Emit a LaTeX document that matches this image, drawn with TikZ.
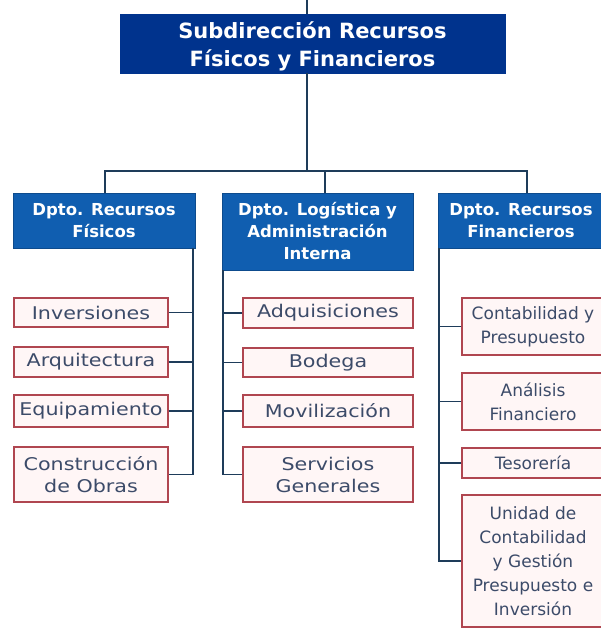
\documentclass[tikz,border=0pt]{standalone}
\usepackage{fontspec}
\setmainfont{DejaVu Sans}
\newfontfamily\widefont[FakeStretch=1.18]{DejaVu Sans}
\newfontfamily\boldfont{DejaVu Sans Bold}
\definecolor{topblue}{RGB}{0,51,141}
\definecolor{deptblue}{RGB}{16,94,176}
\definecolor{boxred}{RGB}{176,70,80}
\definecolor{boxfill}{RGB}{255,246,246}
\definecolor{boxtext}{RGB}{60,75,105}
\definecolor{linecol}{RGB}{30,60,90}
\tikzset{
  topbox/.style={fill=topblue, draw=topblue, text=white, align=center, inner sep=0pt,
    font=\boldfont\fontsize{21}{28}\selectfont},
  deptbox/.style={fill=deptblue, draw=deptblue!80!black, line width=0.6pt, text=white, align=center, inner sep=0pt,
    font=\boldfont\fontsize{16.5}{22}\selectfont},
  childbox/.style={fill=boxfill, draw=boxred, line width=1.2pt, text=boxtext, align=center, inner sep=0pt,
    font=\widefont\fontsize{17.5}{22}\selectfont},
  rchildbox/.style={childbox, font=\fontsize{17}{24}\selectfont},
  conn/.style={draw=linecol, line width=1.5pt}
}
\begin{document}
\begin{tikzpicture}[x=1pt,y=-1pt]
\useasboundingbox (0,0) rectangle (600,628);
% top
\node[topbox, minimum width=385, minimum height=59] (top) at (312.5,43.5) {};
\node[text=white, align=center, inner sep=0pt, font=\boldfont\fontsize{21}{28}\selectfont] (toptext) at (312.5,46) {Subdirección Recursos\\Físicos y Financieros};
% departments
\node[deptbox, minimum width=182, minimum height=55] (dL) at (104,220.5) {Dpto. Recursos\\Físicos};
\node[deptbox, minimum width=191, minimum height=77] (dM) at (317.5,231.5) {Dpto. Logística y\\Administración\\Interna};
\node[deptbox, minimum width=166, minimum height=55] (dR) at (521,220.5) {Dpto. Recursos\\Financieros};
% left children
\node[childbox, minimum width=154, minimum height=29] (L1) at (91,312.5) {Inversiones};
\node[childbox, minimum width=154, minimum height=30] (L2) at (91,362) {Arquitectura};
\node[childbox, minimum width=154, minimum height=32] (L3) at (91,411) {Equipamiento};
\node[childbox, minimum width=154, minimum height=55] (L4) at (91,474.5) {Construcción\\de Obras};
% middle children
\node[childbox, minimum width=170, minimum height=30] (M1) at (328,313) {Adquisiciones};
\node[childbox, minimum width=170, minimum height=29] (M2) at (328,362.5) {Bodega};
\node[childbox, minimum width=170, minimum height=32] (M3) at (328,411) {Movilización};
\node[childbox, minimum width=170, minimum height=55] (M4) at (328,474.5) {Servicios\\Generales};
% right children
\node[rchildbox, minimum width=142, minimum height=57] (R1) at (533,326.5) {Contabilidad y\\Presupuesto};
\node[rchildbox, minimum width=142, minimum height=57] (R2) at (533,401.5) {Análisis\\Financiero};
\node[rchildbox, minimum width=142, minimum height=30] (R3) at (533,463) {Tesorería};
\node[rchildbox, minimum width=142, minimum height=132] (R4) at (533,561) {Unidad de\\Contabilidad\\y Gestión\\Presupuesto e\\Inversión};
% coordinates
\coordinate (t0) at (307,0);
\coordinate (bus) at (307,171);
\coordinate (bL) at (105,171);
\coordinate (bM) at (325,171);
\coordinate (bR) at (527,171);
\coordinate (lt) at (193,0);
\coordinate (mt) at (223,0);
\coordinate (rt) at (439,0);
% connectors
\draw[conn] (t0) -- (t0 |- top.north);
\draw[conn] (t0 |- top.south) -- (bus);
\draw[conn] (bL |- dL.north) -- (bL) -- (bR) -- (bR |- dR.north);
\draw[conn] (bM) -- (bM |- dM.north);
% left trunk
\draw[conn] (lt |- dL.south) -- (lt |- L4.east) -- (L4.east);
\foreach \n in {L1,L2,L3} \draw[conn] (\n.east) -- (lt |- \n.east);
% middle trunk
\draw[conn] (mt |- dM.south) -- (mt |- M4.west) -- (M4.west);
\foreach \n in {M1,M2,M3} \draw[conn] (\n.west) -- (mt |- \n.west);
% right trunk
\draw[conn] (rt |- dR.south) -- (rt |- R4.west) -- (R4.west);
\foreach \n in {R1,R2,R3} \draw[conn] (\n.west) -- (rt |- \n.west);
\end{tikzpicture}
\end{document}
